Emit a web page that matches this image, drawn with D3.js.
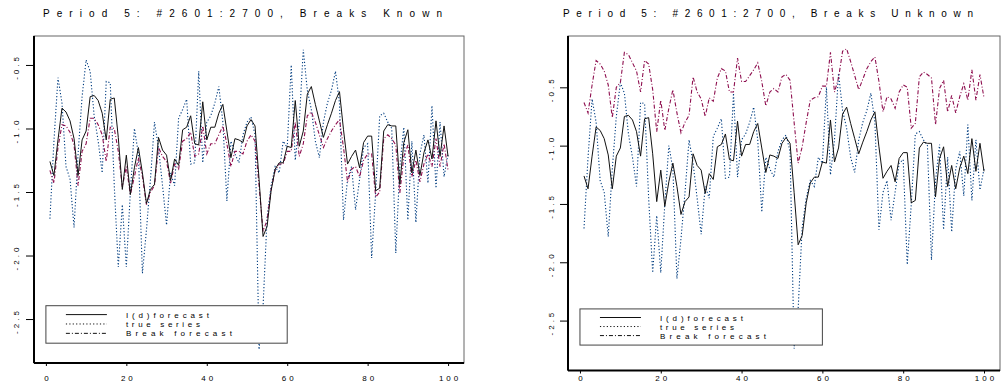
<!DOCTYPE html>
<html>
<head>
<meta charset="utf-8">
<script src="https://cdn.jsdelivr.net/npm/d3@7"></script>
<style>
  html, body { margin: 0; padding: 0; background: #fff; }
  svg { display: block; font-family: "Liberation Sans", Arial, sans-serif; }
</style>
</head>
<body>
<div id="chart"></div>
<script>
// observation index 1..100 within the period
const obs = d3.range(1, 101);

// I(d) forecast (shared by both panels)
const idForecast = [
  -1.26, -1.37, -1.09, -0.84, -0.87, -0.94, -1.08, -1.37, -1.09, -1.02,
  -0.75, -0.74, -0.78, -0.88, -1.09, -0.77, -0.76, -1.07, -1.48, -1.21,
  -1.52, -1.31, -1.15, -1.35, -1.59, -1.48, -1.44, -1.07, -1.17, -1.21,
  -1.41, -1.24, -1.29, -1.01, -0.99, -0.90, -1.12, -1.13, -0.79, -1.09,
  -0.99, -0.99, -0.88, -0.81, -1.02, -1.23, -1.08, -1.09, -1.11, -0.98,
  -0.93, -0.98, -1.40, -1.85, -1.77, -1.49, -1.32, -1.27, -1.27, -1.14,
  -1.15, -0.78, -1.14, -1.02, -0.73, -0.67, -0.81, -0.94, -1.07, -0.97,
  -0.88, -0.78, -0.71, -1.01, -1.28, -1.22, -1.17, -1.31, -1.11, -1.06,
  -1.06, -1.49, -1.47, -1.02, -0.97, -0.98, -0.98, -1.44, -1.11, -1.01,
  -1.35, -1.17, -1.37, -1.19, -1.09, -1.24, -0.94, -1.22, -0.98, -1.22
];

// true series (shared by both panels)
const trueSeries = [
  -1.71, -1.10, -0.60, -0.80, -1.30, -1.40, -1.78, -1.20, -0.75, -0.46,
  -0.55, -0.90, -1.10, -1.35, -0.63, -0.64, -1.45, -2.09, -1.60, -2.09,
  -1.50, -1.00, -1.20, -2.14, -1.80, -1.40, -0.95, -1.15, -1.45, -1.76,
  -1.35, -1.45, -0.92, -0.85, -0.77, -1.28, -1.27, -0.55, -1.27, -0.95,
  -0.90, -0.80, -0.67, -0.95, -1.57, -1.10, -1.20, -1.27, -1.05, -0.95,
  -0.91, -1.05, -2.74, -2.40, -1.70, -1.45, -1.30, -1.35, -1.10, -1.15,
  -0.50, -1.25, -0.95, -0.38, -0.70, -0.85, -1.10, -1.23, -0.95, -0.80,
  -0.70, -0.55, -0.80, -1.72, -1.40, -1.30, -1.64, -1.40, -1.15, -1.12,
  -2.02, -1.50, -0.90, -0.88, -0.95, -1.00, -1.98, -1.30, -0.99, -1.72,
  -1.10, -1.74, -1.20, -1.05, -1.43, -0.82, -1.47, -0.95, -1.38, -1.20
];

// break forecast, breaks known (left panel)
const breakKnown = [
  -1.33, -1.43, -1.15, -0.97, -0.98, -1.03, -1.13, -1.45, -1.18, -1.12,
  -0.92, -0.92, -0.97, -1.05, -1.26, -0.99, -1.00, -1.18, -1.46, -1.30,
  -1.52, -1.38, -1.23, -1.38, -1.60, -1.50, -1.45, -1.15, -1.22, -1.26,
  -1.43, -1.28, -1.32, -1.10, -1.08, -1.03, -1.22, -1.20, -0.98, -1.20,
  -1.12, -1.12, -1.05, -0.98, -1.12, -1.30, -1.18, -1.18, -1.20, -1.10,
  -1.05, -1.10, -1.45, -1.81, -1.72, -1.48, -1.33, -1.28, -1.28, -1.18,
  -1.18, -0.95, -1.22, -1.12, -0.90, -0.87, -0.95, -1.05, -1.15, -1.08,
  -1.02, -0.97, -0.93, -1.15, -1.42, -1.32, -1.30, -1.38, -1.25, -1.20,
  -1.20, -1.54, -1.50, -1.08, -1.05, -1.08, -1.13, -1.51, -1.22, -1.13,
  -1.38, -1.25, -1.42, -1.28, -1.20, -1.30, -1.08, -1.30, -1.12, -1.33
];

// break forecast, breaks unknown (right panel)
const breakUnknown = [
  -0.63, -0.72, -0.48, -0.27, -0.30, -0.36, -0.48, -0.76, -0.50, -0.46,
  -0.20, -0.22, -0.29, -0.36, -0.54, -0.27, -0.30, -0.52, -0.88, -0.61,
  -0.87, -0.68, -0.52, -0.72, -0.89, -0.80, -0.74, -0.41, -0.54, -0.60,
  -0.75, -0.59, -0.62, -0.42, -0.34, -0.36, -0.54, -0.54, -0.25, -0.45,
  -0.45, -0.40, -0.35, -0.29, -0.45, -0.66, -0.54, -0.51, -0.54, -0.41,
  -0.39, -0.44, -0.80, -1.15, -1.01, -0.80, -0.61, -0.59, -0.58, -0.49,
  -0.49, -0.20, -0.54, -0.42, -0.19, -0.17, -0.28, -0.40, -0.52, -0.43,
  -0.34, -0.28, -0.24, -0.45, -0.71, -0.58, -0.60, -0.68, -0.54, -0.48,
  -0.50, -0.85, -0.81, -0.41, -0.37, -0.39, -0.42, -0.82, -0.51, -0.44,
  -0.71, -0.57, -0.72, -0.58, -0.47, -0.61, -0.35, -0.61, -0.39, -0.59
];

const xTicks = [0, 20, 40, 60, 80, 100];
const xTickLabels = ["0", "20", "40", "60", "80", "100"];
const yTicks = [-0.5, -1.0, -1.5, -2.0, -2.5];
const yTickLabels = ["-0.5", "-1.0", "-1.5", "-2.0", "-2.5"];
const legendLabels = ["I(d)forecast", "true series", "Break forecast"];

const W = 1001, H = 386;
const svg = d3.select("#chart").append("svg")
    .attr("width", W)
    .attr("height", H);

const panels = [
  { title: "Period 5: #2601:2700, Breaks Known", titleX: 43, titleLen: 399,
    left: 34, right: 464, top: 36, bottom: 363, yDomain: [-2.846, -0.272],
    xLabelY: 378, yLabelX: 16, brk: breakKnown,
    legTop: -2.395, legBottom: -2.69 },
  { title: "Period 5: #2601:2700, Breaks Unknown", titleX: 563, titleLen: 410,
    left: 568, right: 1000, top: 36, bottom: 370.5, yDomain: [-2.928, -0.06],
    xLabelY: 378, yLabelX: 551, brk: breakUnknown,
    legTop: -2.40, legBottom: -2.71 }
];
const legendLens = [83, 74, 106];

panels.forEach(p => {
  const g = svg.append("g");

  const x = d3.scaleLinear()
    .domain([-2.96, 103.96])
    .range([p.left, p.right]);

  const y = d3.scaleLinear()
    .domain(p.yDomain)
    .range([p.bottom, p.top]);

  // title
  g.append("text")
    .attr("x", p.titleX)
    .attr("y", 17)
    .attr("textLength", p.titleLen)
    .attr("lengthAdjust", "spacing")
    .style("font-size", "10px")
    .attr("fill", "#000")
    .text(p.title);

  // series
  const line = vals => d3.line()
    .x((d, i) => x(obs[i]))
    .y(d => y(d))(vals);

  g.append("path")
    .attr("d", line(trueSeries))
    .attr("fill", "none")
    .attr("stroke", "#003d80")
    .attr("stroke-width", 1.1)
    .attr("stroke-dasharray", "1.2,2");

  g.append("path")
    .attr("d", line(p.brk))
    .attr("fill", "none")
    .attr("stroke", "#8e0f4f")
    .attr("stroke-width", 1.1)
    .attr("stroke-dasharray", "4,2,1,2");

  g.append("path")
    .attr("d", line(idForecast))
    .attr("fill", "none")
    .attr("stroke", "#111")
    .attr("stroke-width", 1);

  // frame: top/right lighter, left/bottom heavy
  g.append("rect")
    .attr("x", p.left).attr("y", p.top)
    .attr("width", p.right - p.left).attr("height", p.bottom - p.top)
    .attr("fill", "none")
    .attr("stroke", "#666")
    .attr("stroke-width", 1);

  // x axis
  const xAxis = d3.axisBottom(x)
    .tickValues(xTicks)
    .tickSize(3)
    .tickFormat((d, i) => xTickLabels[i]);

  const gx = g.append("g")
    .attr("transform", `translate(0,${p.bottom})`)
    .call(xAxis);
  gx.select(".domain")
    .attr("d", `M${p.left},0H${p.right}`)
    .attr("stroke", "#000")
    .attr("stroke-width", 2);
  gx.selectAll(".tick line").attr("stroke", "#000");
  gx.selectAll(".tick text")
    .attr("y", p.xLabelY - p.bottom)
    .attr("dy", "0.32em")
    .attr("dx", "1.5px")
    .style("font-size", "8px")
    .style("letter-spacing", "3px")
    .style("font-family", "Liberation Sans, Arial, sans-serif")
    .attr("fill", "#000");

  // y axis
  const yAxis = d3.axisLeft(y)
    .tickValues(yTicks)
    .tickSize(8)
    .tickFormat((d, i) => yTickLabels[i]);

  const gy = g.append("g")
    .attr("transform", `translate(${p.left},0)`)
    .call(yAxis);
  gy.select(".domain")
    .attr("d", `M0,${p.top}V${p.bottom}`)
    .attr("stroke", "#000")
    .attr("stroke-width", 2);
  gy.selectAll(".tick line").attr("stroke", "#000");
  gy.selectAll(".tick text")
    .attr("x", 0).attr("y", 0).attr("dy", 0)
    .attr("text-anchor", "middle")
    .attr("transform", `translate(${p.yLabelX - p.left + 3},1.5) rotate(-90)`)
    .style("font-size", "8px")
    .style("letter-spacing", "3px")
    .style("font-family", "Liberation Sans, Arial, sans-serif")
    .attr("fill", "#000");

  // legend
  const lx0 = x(0), lx1 = x(60);
  const ly0 = y(p.legTop), ly1 = y(p.legBottom);
  const leg = g.append("g");
  leg.append("rect")
    .attr("x", lx0).attr("y", ly0)
    .attr("width", lx1 - lx0).attr("height", ly1 - ly0)
    .attr("fill", "#fff")
    .attr("stroke", "#444")
    .attr("stroke-width", 1);

  const rowH = (ly1 - ly0) / 4;
  const dashes = [null, "1.2,2.2", "4,2,1,2"];
  legendLabels.forEach((lab, i) => {
    const ry = ly0 + rowH * (i + 0.95);
    leg.append("line")
      .attr("x1", lx0 + 20).attr("x2", lx0 + 61)
      .attr("y1", ry).attr("y2", ry)
      .attr("stroke", "#111")
      .attr("stroke-width", 1)
      .attr("stroke-dasharray", dashes[i]);
    leg.append("text")
      .attr("x", lx0 + 80)
      .attr("y", ry + 3)
      .attr("textLength", legendLens[i])
      .attr("lengthAdjust", "spacing")
      .style("font-size", "8px")
      .attr("fill", "#000")
      .text(lab);
  });
});
</script>
</body>
</html>
